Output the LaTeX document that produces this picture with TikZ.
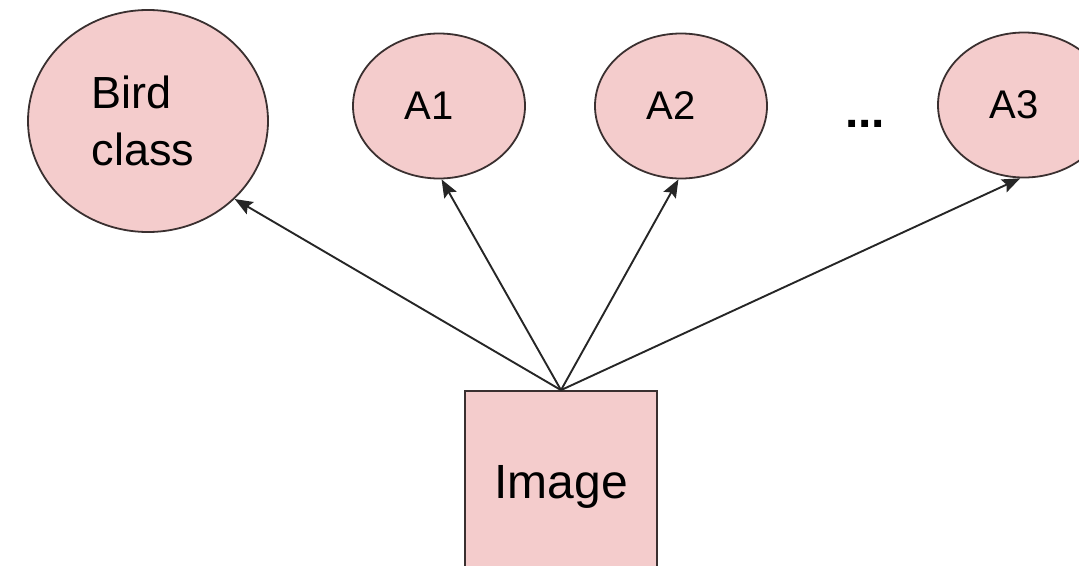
\documentclass[tikz,border=0pt]{standalone}
\usepackage{fontspec}
\setmainfont{Liberation Sans}
\usetikzlibrary{shapes.geometric,arrows.meta}
\definecolor{nodepink}{HTML}{F4CCCC}
\definecolor{edgegray}{HTML}{3A3030}
\newcommand{\padleft}[1]{#1\kern 20pt}
\tikzset{
  attr/.style={ellipse, draw=edgegray, line width=1.8pt, fill=nodepink, inner sep=0pt,
    minimum width=172pt, minimum height=145pt, font=\fontsize{40}{46}\selectfont},
  imgbox/.style={rectangle, draw=edgegray, line width=1.8pt, fill=nodepink, inner sep=0pt,
    minimum width=192pt, minimum height=192pt, font=\fontsize{48}{55}\selectfont},
  link/.style={line width=1.9pt, draw=black!85, -{Stealth[length=18pt,width=14pt,inset=3pt]}}
}
\begin{document}
\begin{tikzpicture}[x=1pt,y=-1pt]
  \useasboundingbox (0,0) rectangle (1079,565);
  \clip (0,0) rectangle (1079,565);
  % output nodes
  \node[attr, minimum width=240pt, minimum height=222pt, align=left,
        font=\fontsize{45}{57}\selectfont] (bird) at (148,121) {Bird\\class\kern 10pt};
  \node[attr] (a1) at (439,106) {\padleft{A1}};
  \node[attr] (a2) at (681,106) {\padleft{A2}};
  \node[attr] (a3) at (1024,105) {\padleft{A3}};
  \node[font=\bfseries\fontsize{48}{54}\selectfont] (dots) at (865,124) {...};
  % input node
  \node[imgbox] (img) at (561,487) {Image};
  % connectors
  \draw[link] (img.north) -- (bird.-42);
  \draw[link] (img.north) -- (a1.-88);
  \draw[link] (img.north) -- (a2.-92);
  \draw[link] (img.north) -- (a3.-93);
\end{tikzpicture}
\end{document}
